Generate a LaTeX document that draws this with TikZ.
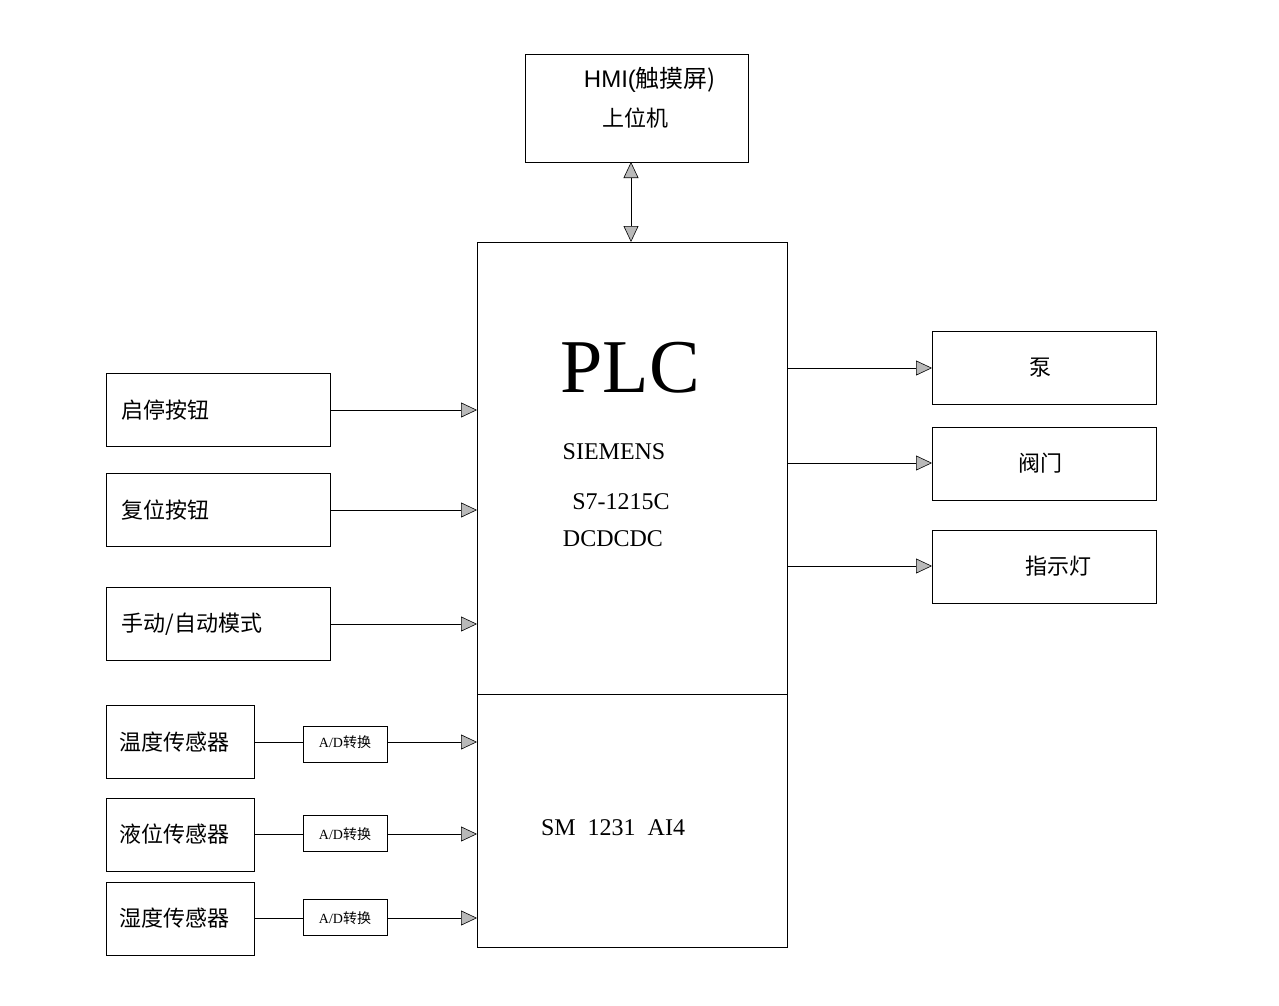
\documentclass[tikz,border=0pt]{standalone}
\usepackage{fontspec}
\setmainfont{Liberation Serif}
\newfontfamily\cjk{Noto Sans CJK SC}
\newfontfamily\hsans{Liberation Sans}
\usetikzlibrary{arrows.meta}
\begin{document}
\begin{tikzpicture}[x=1pt,y=-1pt,
 box/.style={draw,line width=1pt,inner sep=0pt},
 arr/.style={-{Triangle[length=16pt,width=15pt,fill=gray!55]},line width=0.6pt},
 cj/.style={font=\cjk\fontsize{22}{24}\selectfont},
 sm/.style={font=\cjk\fontsize{14}{16}\selectfont}]
\useasboundingbox (0,0) rectangle (1279,1006);
% HMI
\draw[box] (525,55) rectangle (748,162);
\node[font=\hsans\fontsize{24}{26}\selectfont] (hmi) at (650,80) {HMI(\cjk 触摸屏)};
\node[cj] (sw) at (635,118) {上位机};
\coordinate (hmib) at (631,162);
% PLC
\draw[box] (477,242) rectangle (787,947);
\draw[line width=1pt] (477,694) -- (787,694);
\coordinate (plct) at (631,242);
\draw[{Triangle[length=16pt,width=15pt,fill=gray!55]}-{Triangle[length=16pt,width=15pt,fill=gray!55]},line width=0.6pt] (hmib) -- (plct);
\node[font=\fontsize{76}{80}\selectfont] (plc) at (630,368) {PLC};
\node[font=\fontsize{24}{26}\selectfont] (sie) at (614,452) {SIEMENS};
\node[font=\fontsize{24}{26}\selectfont] (s7) at (621,502) {S7-1215C};
\node[font=\fontsize{24}{26}\selectfont] (dc) at (613,539) {DCDCDC};
\node[font=\fontsize{24}{26}\selectfont] (sm) at (613,828) {SM\ \ 1231\ \ AI4};
% left inputs
\foreach \n/\t/\y/\ya in {a/启停按钮/373/410, b/复位按钮/473/510, c/{手动/自动模式}/587/624}{
  \draw[box] (106,\y) rectangle (330,\y+73);
  \node[cj,anchor=west] (\n) at (118,\ya) {\t};
  \coordinate (\n o) at (330,\ya);
  \coordinate (\n i) at (477,\ya);
  \draw[arr] (\n o) -- (\n i);
}
% sensors
\foreach \n/\t/\y/\ay/\ya in {d/温度传感器/705/726/742, e/液位传感器/798/815/834, f/湿度传感器/882/899/918}{
  \draw[box] (106,\y) rectangle (254,\y+73);
  \node[cj] (\n) at (174,\ya) {\t};
  \draw[line width=0.8pt] (303,\ay) rectangle (387,\ay+36);
  \node[sm] (\n ad) at (345,\ya) {\fontspec{Liberation Serif}A/D\cjk 转换};
  \coordinate (\n o) at (254,\ya);
  \coordinate (\n a) at (303,\ya);
  \coordinate (\n b) at (387,\ya);
  \coordinate (\n i) at (477,\ya);
  \draw[line width=0.6pt] (\n o) -- (\n a);
  \draw[arr] (\n b) -- (\n i);
}
% outputs
\foreach \n/\t/\y/\ya/\tx in {g/泵/331/368/1040, h/阀门/427/463/1040, k/指示灯/530/566/1058}{
  \draw[box] (932,\y) rectangle (1156,\y+73);
  \node[cj] (\n) at (\tx,\ya) {\t};
  \coordinate (\n o) at (787,\ya);
  \coordinate (\n i) at (932,\ya);
  \draw[arr] (\n o) -- (\n i);
}
\end{tikzpicture}
\end{document}
